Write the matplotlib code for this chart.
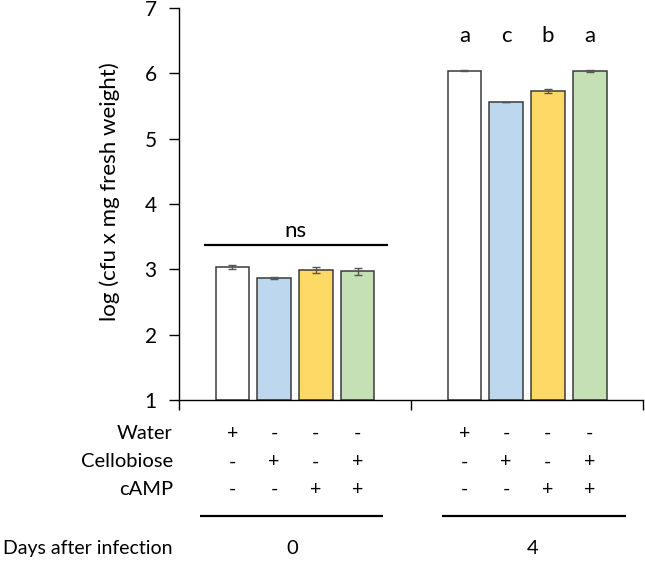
import matplotlib
matplotlib.use("Agg")
import matplotlib.pyplot as plt
import matplotlib.transforms as mtransforms
import numpy as np

plt.rcParams["font.family"] = ["Lato", "DejaVu Sans"]

# 値
days = ["0", "4"]
treatments = ["Water", "Cellobiose", "Water+cAMP", "Cellobiose+cAMP"]
colors = ["#FFFFFF", "#BDD7EE", "#FFD966", "#C5E0B4"]
means_day0 = [3.03, 2.86, 2.99, 2.97]
errs_day0 = [0.03, 0.015, 0.05, 0.055]
means_day4 = [6.04, 5.56, 5.73, 6.04]
errs_day4 = [0.01, 0.005, 0.03, 0.015]
letters_day4 = ["a", "c", "b", "a"]
row_labels = ["Water", "Cellobiose", "cAMP"]
signs = [["+", "-", "-", "-"],
         ["-", "+", "-", "+"],
         ["-", "-", "+", "+"]]

offsets = np.array([-0.27, -0.09, 0.09, 0.27])
width = 0.145

fig = plt.figure(figsize=(6.45, 5.61), dpi=100)
ax = fig.add_axes([0.2775, 0.287, 0.7195, 0.699])

for g, (means, errs) in enumerate([(means_day0, errs_day0), (means_day4, errs_day4)]):
    xs = g + 0.5 + offsets
    ax.bar(xs, np.array(means) - 1, bottom=1, width=width, color=colors,
           edgecolor="#3a3a3a", linewidth=1.1, zorder=2)
    ax.errorbar(xs, means, yerr=errs, fmt="none", ecolor="#555555",
                elinewidth=1.0, capsize=3, capthick=1.0, zorder=3)

# 有意差の表示
ax.plot([0.109, 0.899], [3.37, 3.37], color="black", linewidth=1.6, solid_capstyle="butt")
ax.text(0.504, 3.50, "ns", ha="center", va="baseline", fontsize=16)
for x, lab in zip(1.5 + offsets, letters_day4):
    ax.text(x, 6.47, lab, ha="center", va="baseline", fontsize=16)

ax.set_xlim(0, 2)
ax.set_ylim(1, 7)
ax.set_xticks([0, 1, 2])
ax.set_xticklabels([])
ax.set_yticks(range(1, 8))
ax.tick_params(axis="both", direction="out", length=7, width=1.0, color="black")
ax.tick_params(axis="y", labelsize=15, pad=9)
for s in ["top", "right"]:
    ax.spines[s].set_visible(False)
for s in ["left", "bottom"]:
    ax.spines[s].set_linewidth(1.0)
ax.set_ylabel("log (cfu x mg fresh weight)", fontsize=16)
ax.yaxis.set_label_coords(-0.127, 0.532)

# 下の表
trans = mtransforms.blended_transform_factory(ax.transData, fig.transFigure)
row_y = [0.228, 0.1765, 0.128]
for r, (lab, y) in enumerate(zip(row_labels, row_y)):
    fig.text(0.268, y, lab, ha="right", va="center", fontsize=14.5)
    for g in range(2):
        for k, x in enumerate(g + 0.5 + offsets):
            ax.text(x, y, signs[r][k], transform=trans, ha="center", va="center",
                    fontsize=14, clip_on=False)

line_y = 0.080
ax.plot([0.09, 0.88], [line_y, line_y], transform=trans, color="black",
        linewidth=1.6, clip_on=False, solid_capstyle="butt")
ax.plot([1.134, 1.927], [line_y, line_y], transform=trans, color="black",
        linewidth=1.6, clip_on=False, solid_capstyle="butt")

fig.text(0.268, 0.0214, "Days after infection", ha="right", va="center", fontsize=14)
for x, d in zip([0.49, 1.526], days):
    ax.text(x, 0.0214, d, transform=trans, ha="center", va="center",
            fontsize=14.5, clip_on=False)

fig.savefig("out.png", dpi=100)
